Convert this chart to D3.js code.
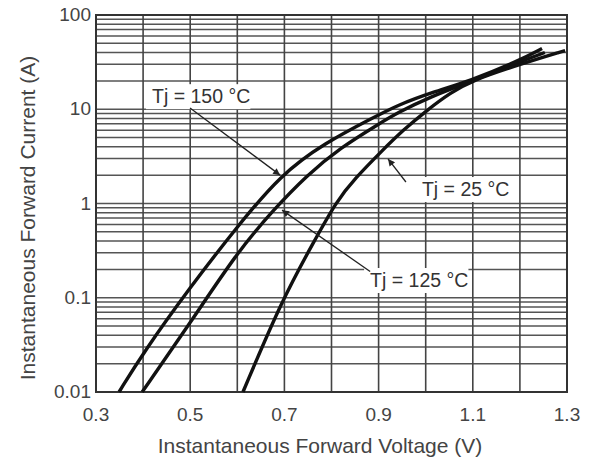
<!DOCTYPE html>
<html>
<head>
<meta charset="utf-8">
<script src="https://cdn.jsdelivr.net/npm/d3@7"></script>
<style>
    body { margin: 0; background: #fff; }
    text { font-family: "Liberation Sans", Arial, sans-serif; }
</style>
</head>
<body>
<div class="visContainer"></div>
<script>
// Forward voltage (V) / forward current (A).
const v150 = [0.349, 0.400, 0.500, 0.599, 0.691, 0.786, 0.888, 0.939, 1.015, 1.094, 1.194, 1.247];
const i150 = [0.01, 0.026, 0.13, 0.56, 2.0, 4.4, 8.1, 11, 15.2, 20, 32, 44];

const v125 = [0.398, 0.500, 0.599, 0.676, 0.748, 0.818, 0.903, 0.939, 1.009, 1.094, 1.194, 1.253];
const i125 = [0.01, 0.054, 0.30, 0.85, 2.0, 3.88, 7.1, 9.1, 13.5, 19.5, 31, 40];

const v25 = [0.612, 0.695, 0.761, 0.810, 0.850, 0.909, 0.952, 1.003, 1.052, 1.100, 1.200, 1.296];
const i25 = [0.01, 0.095, 0.38, 1.05, 1.85, 3.7, 6.0, 9.8, 14.9, 20.4, 30, 42];

const xTicks = [0.3, 0.5, 0.7, 0.9, 1.1, 1.3];
const xGrid = [0.4, 0.5, 0.6, 0.7, 0.8, 0.9, 1.0, 1.1, 1.2];
const yTicks = [0.01, 0.1, 1, 10, 100];
const yTickLabels = ['0.01', '0.1', '1', '10', '100'];

// Curve labels: text anchor, arrow tail, arrow tip (V, A).
const labelText = ['Tj = 150 °C', 'Tj = 25 °C', 'Tj = 125 °C'];
const labelAt = [[0.419, 11.6], [0.992, 1.2], [0.882, 0.13]];
const arrowFrom = [[0.4996, 10.3], [0.958, 1.69], [0.882, 0.19]];
const arrowTo = [[0.691, 2.0], [0.92, 2.97], [0.695, 0.85]];

const width = 598;
const height = 459;
const padLeft = 96, padRight = 567, padTop = 15, padBottom = 392;

const xScale = d3.scaleLinear().domain([0.3, 1.3]).range([padLeft, padRight]);
const yScale = d3.scaleLog().domain([0.01, 100]).range([padBottom, padTop]);

const svg = d3.select('.visContainer')
              .append('svg')
              .attr('width', width)
              .attr('height', height);

svg.append('defs').append('marker')
   .attr('id', 'head')
   .attr('viewBox', '0 0 10 10')
   .attr('refX', 10)
   .attr('refY', 5)
   .attr('markerWidth', 10)
   .attr('markerHeight', 7)
   .attr('markerUnits', 'userSpaceOnUse')
   .attr('orient', 'auto')
   .append('path')
   .attr('d', 'M0,0 L10,5 L0,10 Z')
   .attr('fill', '#222');

// Minor log grid (1..9 per decade).
const yGrid = [];
[0.01, 0.1, 1, 10].forEach((d) => {
    for (let k = 1; k < 10; k++) yGrid.push(d * k);
});

svg.append('g')
   .selectAll('line')
   .data(yGrid)
   .enter()
   .append('line')
   .attr('x1', padLeft)
   .attr('x2', padRight)
   .attr('y1', (d) => yScale(d))
   .attr('y2', (d) => yScale(d))
   .attr('stroke', '#555')
   .attr('stroke-width', 1.5);

svg.append('g')
   .selectAll('line')
   .data(xGrid)
   .enter()
   .append('line')
   .attr('x1', (d) => xScale(d))
   .attr('x2', (d) => xScale(d))
   .attr('y1', padTop)
   .attr('y2', padBottom)
   .attr('stroke', '#444')
   .attr('stroke-width', 1.6);

// Frame.
svg.append('rect')
   .attr('x', padLeft)
   .attr('y', padTop)
   .attr('width', padRight - padLeft)
   .attr('height', padBottom - padTop)
   .attr('fill', 'none')
   .attr('stroke', '#333')
   .attr('stroke-width', 2);

// Curves (B-spline smooths the hand-read points).
const line = d3.line()
               .x((d) => xScale(d[0]))
               .y((d) => yScale(d[1]))
               .curve(d3.curveBasis);

[[v150, i150], [v125, i125], [v25, i25]].forEach(([vs, is]) => {
    svg.append('path')
       .datum(vs.map((v, k) => [v, is[k]]))
       .attr('d', line)
       .attr('fill', 'none')
       .attr('stroke', '#111')
       .attr('stroke-width', 3.4)
       .attr('stroke-linejoin', 'round');
});

// Labels with white boxes and arrows.
labelText.forEach((t, k) => {
    const g = svg.append('g');
    const txt = g.append('text')
                 .attr('x', xScale(labelAt[k][0]))
                 .attr('y', yScale(labelAt[k][1]))
                 .attr('font-size', '19.5px')
                 .attr('fill', '#333')
                 .text(t);
    const bb = txt.node().getBBox();
    g.insert('rect', 'text')
     .attr('x', bb.x - 6)
     .attr('y', bb.y - 1)
     .attr('width', bb.width + 6)
     .attr('height', bb.height + 3)
     .attr('fill', '#fff');
    svg.append('line')
       .attr('x1', xScale(arrowFrom[k][0]))
       .attr('y1', yScale(arrowFrom[k][1]))
       .attr('x2', xScale(arrowTo[k][0]))
       .attr('y2', yScale(arrowTo[k][1]))
       .attr('stroke', '#222')
       .attr('stroke-width', 1.3)
       .attr('marker-end', 'url(#head)');
});

// Tick labels.
svg.append('g')
   .selectAll('text')
   .data(xTicks)
   .enter()
   .append('text')
   .attr('x', (d) => xScale(d))
   .attr('y', 421)
   .attr('text-anchor', 'middle')
   .attr('font-size', '19px')
   .attr('fill', '#444')
   .text((d) => d.toFixed(1));

svg.append('g')
   .selectAll('text')
   .data(yTicks)
   .enter()
   .append('text')
   .attr('x', 91)
   .attr('y', (d) => yScale(d) + 6)
   .attr('text-anchor', 'end')
   .attr('font-size', '19px')
   .attr('fill', '#444')
   .text((d, k) => yTickLabels[k]);

// Axis titles.
svg.append('text')
   .attr('x', 320)
   .attr('y', 453)
   .attr('text-anchor', 'middle')
   .attr('font-size', '21px')
   .attr('fill', '#444')
   .text('Instantaneous Forward Voltage (V)');

svg.append('text')
   .attr('transform', 'translate(35,' + 218 + ') rotate(-90)')
   .attr('text-anchor', 'middle')
   .attr('font-size', '21px')
   .attr('fill', '#444')
   .text('Instantaneous Forward Current (A)');
</script>
</body>
</html>
